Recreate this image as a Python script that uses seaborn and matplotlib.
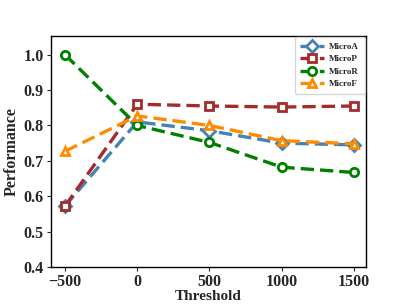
import pandas as pd
import matplotlib.pyplot as plt
import seaborn as sns

thresholds = [-500, 0, 500, 1000, 1500]
micro_a = [0.572, 0.810, 0.785, 0.750, 0.745]
micro_p = [0.572, 0.860, 0.855, 0.852, 0.855]
micro_r = [1.000, 0.800, 0.752, 0.682, 0.667]
micro_f = [0.727, 0.827, 0.800, 0.757, 0.748]

sns.set_style('white')
plt.rcParams['font.family'] = ['Liberation Serif', 'DejaVu Serif']
plt.rcParams['font.weight'] = 'bold'

df = pd.DataFrame({
    'Threshold': thresholds * 4,
    'Performance': micro_a + micro_p + micro_r + micro_f,
    'Metric': ['MicroA'] * 5 + ['MicroP'] * 5 + ['MicroR'] * 5 + ['MicroF'] * 5,
})

colors = {'MicroA': '#4682B4', 'MicroP': '#A52A2A', 'MicroR': '#008000', 'MicroF': '#FF8C00'}
markers = {'MicroA': 'D', 'MicroP': 's', 'MicroR': 'o', 'MicroF': '^'}

fig, ax = plt.subplots(figsize=(4.07, 3.05), dpi=100)
for name in ['MicroA', 'MicroP', 'MicroR', 'MicroF']:
    sub = df[df['Metric'] == name]
    sns.lineplot(data=sub, x='Threshold', y='Performance', ax=ax,
                 color=colors[name], marker=markers[name], markersize=6,
                 markerfacecolor='white', markeredgecolor=colors[name],
                 markeredgewidth=2, linewidth=2.4, linestyle='--',
                 dashes=False, label=name)
    ax.lines[-1].set_linestyle((0, (4, 1.8)))

ax.set_xlim(-598, 1583)
ax.set_ylim(0.4, 1.053)
ax.set_xticks(thresholds)
ax.set_yticks([0.4, 0.5, 0.6, 0.7, 0.8, 0.9, 1.0])
ax.tick_params(axis='both', labelsize=11.5, length=3, pad=2, left=True, bottom=True)
for lbl in ax.get_xticklabels() + ax.get_yticklabels():
    lbl.set_fontweight('bold')
ax.set_xlabel('Threshold', fontsize=11, fontweight='bold', labelpad=0)
ax.set_ylabel('Performance', fontsize=11.5, fontweight='bold', labelpad=3)
for sp in ax.spines.values():
    sp.set_color('black')
    sp.set_linewidth(1)

leg = ax.legend(loc='upper right', prop={'weight': 'bold', 'size': 6.5},
                handlelength=2.6, borderpad=0.6, labelspacing=0.45,
                borderaxespad=0.15, handletextpad=0.6)

fig.subplots_adjust(left=0.125, right=0.899, top=0.882, bottom=0.125)
fig.savefig('out.png', dpi=100)
